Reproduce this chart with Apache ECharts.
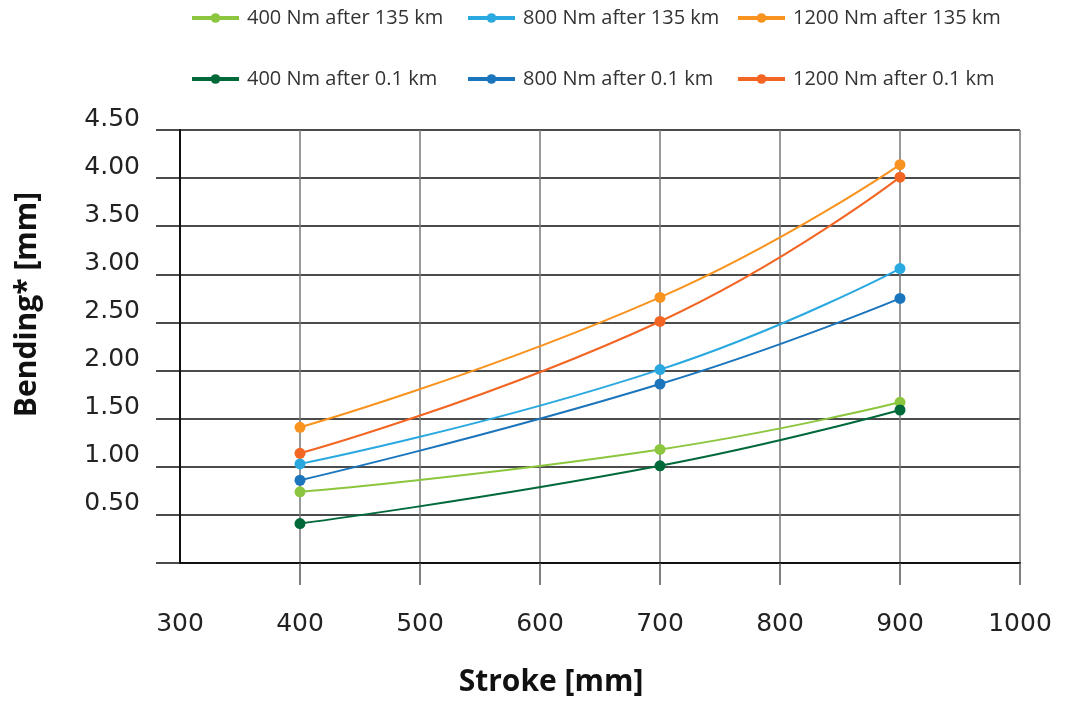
<!DOCTYPE html>
<html>
<head>
<meta charset="utf-8">
<script src="https://cdn.jsdelivr.net/npm/echarts@6/dist/echarts.min.js"></script>
<style>
  html, body { margin: 0; padding: 0; background: #fff; }
  #chart { width: 1066px; height: 702px; }
</style>
</head>
<body>
<div id="chart"></div>
<script>
// stroke positions where bending was measured
var strokes = [400, 700, 900]

// bending [mm] per torque / mileage
var bend400_135 = [0.74, 1.18, 1.67]
var bend800_135 = [1.03, 2.01, 3.06]
var bend1200_135 = [1.41, 2.76, 4.14]
var bend400_01 = [0.41, 1.01, 1.59]
var bend800_01 = [0.86, 1.86, 2.75]
var bend1200_01 = [1.14, 2.51, 4.01]

var seriesNames = [
  '400 Nm after 135 km', '800 Nm after 135 km', '1200 Nm after 135 km',
  '400 Nm after 0.1 km', '800 Nm after 0.1 km', '1200 Nm after 0.1 km'
]
var seriesData = [bend400_135, bend800_135, bend1200_135, bend400_01, bend800_01, bend1200_01]
var colors = ['#8cc63e', '#2aa9e0', '#f7931e', '#00693a', '#1b75bc', '#f26522']

var xTicks = [400, 500, 600, 700, 800, 900, 1000]
var yTicks = [0.5, 1, 1.5, 2, 2.5, 3, 3.5, 4, 4.5]

var font = '"Open Sans", "Noto Sans", sans-serif'
var numFont = '"DejaVu Sans", sans-serif'

function pairs(ys) {
  return strokes.map(function (x, i) { return [x, ys[i]] })
}

// one legend per item so the columns line up like the original
var legendLeft = [190, 466, 736]
var legendTop = [8, 69]
var legends = seriesNames.map(function (name, i) {
  return {
    data: [name],
    left: legendLeft[i % 3],
    top: legendTop[Math.floor(i / 3)],
    padding: 0,
    itemWidth: 47,
    itemHeight: 12,
    lineStyle: { width: 4 },
    textStyle: { fontFamily: font, fontSize: 20, color: '#333', padding: [0, 0, 0, 3] }
  }
})

var myChart = echarts.init(document.getElementById('chart'))
myChart.setOption({
  animation: false,
  color: colors,
  legend: legends,
  grid: { left: 180, right: 46, top: 130, bottom: 139 },
  xAxis: {
    type: 'value',
    min: 300,
    max: 1000,
    interval: 100,
    name: 'Stroke [mm]',
    nameLocation: 'middle',
    nameGap: 104,
    nameTextStyle: { fontFamily: font, fontSize: 30, fontWeight: 'bold', color: '#111', padding: [0, 98, 0, 0] },
    axisLine: { lineStyle: { color: '#111', width: 2 } },
    axisTick: { show: true, length: 22, customValues: xTicks, lineStyle: { color: '#555', width: 1.5 } },
    axisLabel: {
      fontFamily: numFont, fontSize: 25, color: '#222', margin: 49,
      formatter: function (v) { return String(v) }
    },
    splitLine: { show: true, lineStyle: { color: '#777', width: 1.5 } }
  },
  yAxis: {
    type: 'value',
    min: 0,
    max: 4.5,
    interval: 0.5,
    name: 'Bending* [mm]',
    nameLocation: 'middle',
    nameGap: 138,
    nameTextStyle: { fontFamily: font, fontSize: 30, fontWeight: 'bold', color: '#111', padding: [0, 0, 0, 84] },
    axisLine: { show: true, lineStyle: { color: '#111', width: 2 } },
    axisTick: { show: true, length: 24, lineStyle: { color: '#111', width: 1.5 } },
    axisLabel: {
      fontFamily: numFont, fontSize: 25, color: '#222', margin: 40,
      customValues: yTicks,
      // labels sit just above their grid line in the original
      verticalAlign: 'bottom',
      lineHeight: 22,
      formatter: function (v) { return v.toFixed(2) }
    },
    splitLine: { show: true, lineStyle: { color: '#111', width: 1.5 } }
  },
  series: seriesNames.map(function (name, i) {
    return {
      name: name,
      type: 'line',
      smooth: true,
      symbol: 'circle',
      symbolSize: 11,
      lineStyle: { width: 2 },
      data: pairs(seriesData[i])
    }
  })
})
</script>
</body>
</html>
